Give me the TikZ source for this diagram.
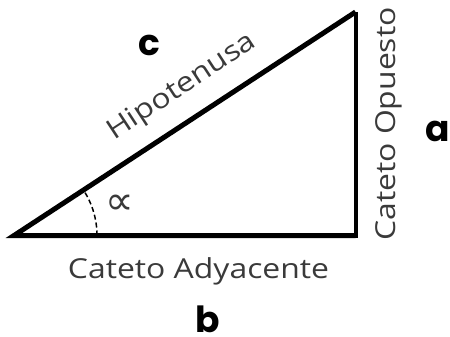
\documentclass[tikz,border=0pt]{standalone}
\usepackage{fontspec}
\setmainfont{Open Sans}
\newfontfamily\sidefont{Open Sans}[FakeStretch=1.16]
\newfontfamily\letterfont{Poppins}
\newfontfamily\symfont{DejaVu Sans}
\usetikzlibrary{calc}
\definecolor{txtgray}{HTML}{3A3A3A}

\begin{document}
\begin{tikzpicture}[
  x=1pt,y=-1pt,
  every node/.style={inner sep=0pt},
  side/.style={font=\sidefont\fontsize{27.5}{30}\selectfont,text=txtgray,anchor=base},
  letter/.style={font=\letterfont\bfseries\fontsize{36}{40}\selectfont,anchor=base}
]
\useasboundingbox (0,0) rectangle (450,337);
\coordinate (A) at (14,235.5);
\coordinate (B) at (355.5,235.5);
\coordinate (C) at (355.5,12);
\draw[line width=5pt,line join=miter] (C) -- (A) -- (B);
\draw[line width=4pt,line join=miter] (A) -- (B) -- (C);
\draw[dashed,line width=1.5pt,dash pattern=on 5pt off 3pt]
  ($(A)+(83,0)$) arc[start angle=0,end angle=-33.3,radius=83];
\node[text=txtgray,font=\symfont\fontsize{40}{42}\selectfont] (alpha) at (120,205) {∝};
\node[side,rotate=33.3] (hyp) at (186,93) {Hipotenusa};
\node[side] (ady) at (198.5,278) {Cateto Adyacente};
\node[side,rotate=90] (opu) at (395,124) {Cateto Opuesto};
\node[letter] (a) at (438,141) {a};
\node[letter] (b) at (208,332) {b};
\node[letter] (c) at (149,56) {c};
\end{tikzpicture}
\end{document}
